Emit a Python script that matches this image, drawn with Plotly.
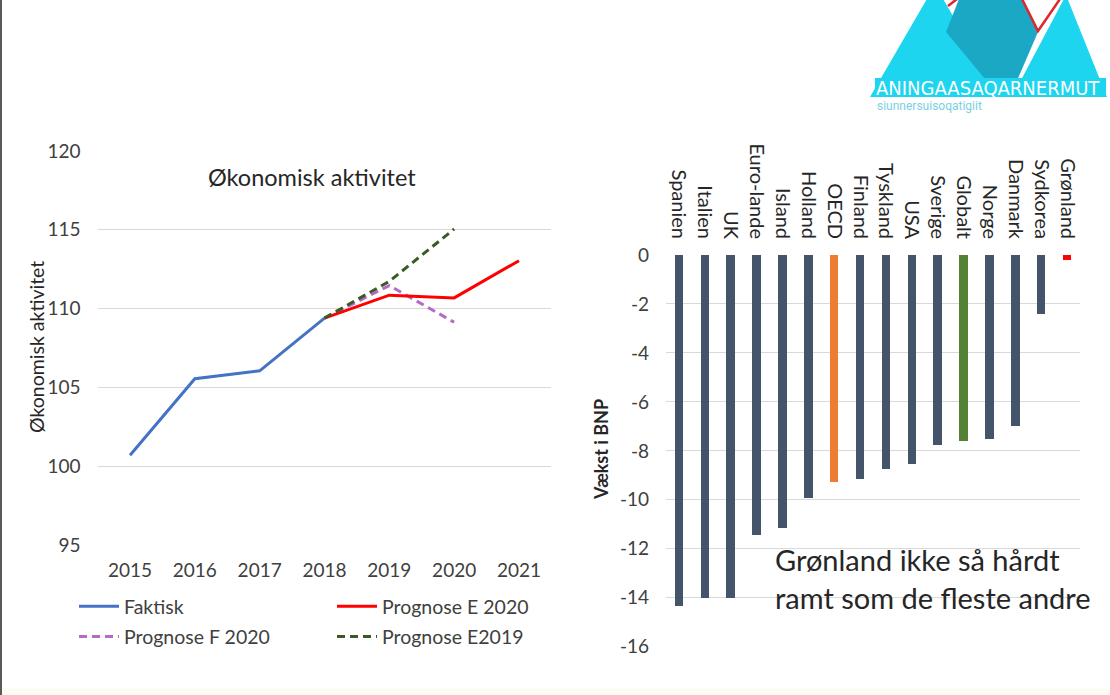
import plotly.graph_objects as go

W, H = 1110, 695

def px(x):
    return x / W

def py(y):
    return 1 - y / H

# ---------------- data ----------------
years = ["2015", "2016", "2017", "2018", "2019", "2020", "2021"]
faktisk_years = ["2015", "2016", "2017", "2018"]
faktisk = [100.7, 105.55, 106.05, 109.4]
progE2020_years = ["2018", "2019", "2020", "2021"]
progE2020 = [109.4, 110.85, 110.68, 113.04]
progF2020_years = ["2018", "2019", "2020"]
progF2020 = [109.4, 111.46, 109.13]
progE2019_years = ["2018", "2019", "2020"]
progE2019 = [109.4, 111.73, 115.05]

countries = ["Spanien", "Italien", "UK", "Euro-lande", "Island", "Holland", "OECD",
             "Finland", "Tyskland", "USA", "Sverige", "Globalt", "Norge", "Danmark",
             "Sydkorea", "Grønland"]
growth = [-14.33, -14.0, -14.0, -11.43, -11.16, -9.93, -9.27, -9.14, -8.73, -8.52,
          -7.76, -7.6, -7.5, -7.0, -2.42, -0.19]
bar_colors = {"OECD": "#ED7D31", "Globalt": "#548235", "Grønland": "#FF0000"}
default_bar = "#44546A"

growth_ticks = [0, -2, -4, -6, -8, -10, -12, -14, -16]
growth_ticktext = ["0", "-2", "-4", "-6", "-8", "-10", "-12", "-14", "-16"]

FONT = "Lato, Calibri, Carlito, sans-serif"
TXT = "#404040"

fig = go.Figure()

# ---------------- left chart ----------------
fig.add_trace(go.Scatter(x=faktisk_years, y=faktisk, mode="lines", name="Faktisk",
                         line=dict(color="#4472C4", width=3), xaxis="x", yaxis="y",
                         legend="legend", legendgroup="a"))
fig.add_trace(go.Scatter(x=progF2020_years, y=progF2020, mode="lines", name="Prognose F 2020",
                         line=dict(color="#B56AC8", width=3, dash="8px,5px"), xaxis="x", yaxis="y",
                         legend="legend", legendgroup="b"))
fig.add_trace(go.Scatter(x=progE2020_years, y=progE2020, mode="lines", name="Prognose E 2020",
                         line=dict(color="#FF0000", width=3), xaxis="x", yaxis="y",
                         legend="legend2", legendgroup="c"))
fig.add_trace(go.Scatter(x=progE2019_years, y=progE2019, mode="lines", name="Prognose E2019",
                         line=dict(color="#3A5A27", width=3, dash="8px,5px"), xaxis="x", yaxis="y",
                         legend="legend2", legendgroup="d"))

# ---------------- right chart ----------------
fig.add_trace(go.Bar(x=countries, y=growth, width=0.33,
                     marker=dict(color=[bar_colors.get(c, default_bar) for c in countries], line=dict(width=0)),
                     xaxis="x2", yaxis="y2", showlegend=False))

axis_common = dict(showline=False, zeroline=False, ticks="", automargin=False,
                   tickfont=dict(family=FONT, size=19, color=TXT))

fig.update_layout(
    template="none",
    width=W, height=H,
    margin=dict(l=0, r=0, t=0, b=0, pad=0, autoexpand=False),
    paper_bgcolor="white", plot_bgcolor="rgba(0,0,0,0)",
    font=dict(family=FONT, color=TXT),
    xaxis=dict(domain=[px(97.6), px(551.4)], anchor="y", type="category",
               categoryorder="array", categoryarray=years,
               range=[-0.5, 6.5], showgrid=False, ticklabelstandoff=12, **axis_common),
    yaxis=dict(domain=[py(545), py(151)], anchor="x", range=[95, 120], dtick=5,
               showgrid=True, gridcolor="#D9D9D9", gridwidth=1, ticklabelstandoff=16,
               **axis_common),
    xaxis2=dict(domain=[px(666), px(1080)], anchor="y2", side="top", type="category",
                categoryorder="array", categoryarray=countries,
                range=[-0.5, 15.5], showgrid=False, tickangle=90, ticklabelstandoff=12,
                showline=False, zeroline=False, ticks="", automargin=False,
                tickfont=dict(family=FONT, size=20, color="#262626")),
    yaxis2=dict(domain=[py(646.7), py(255)], anchor="x2", range=[-16, 0],
                tickmode="array", tickvals=growth_ticks, ticktext=growth_ticktext,
                showgrid=True, gridcolor="#D9D9D9", gridwidth=1, ticklabelstandoff=16,
                **axis_common),
    legend=dict(x=px(74), y=py(587), xanchor="left", yanchor="top", orientation="v",
                bgcolor="rgba(0,0,0,0)", font=dict(family=FONT, size=19.5, color=TXT),
                tracegroupgap=2, itemwidth=40),
    legend2=dict(x=px(332), y=py(587), xanchor="left", yanchor="top", orientation="v",
                 bgcolor="rgba(0,0,0,0)", font=dict(family=FONT, size=19.5, color=TXT),
                 tracegroupgap=2, itemwidth=40),
    bargap=0,
)

annotations = [
    dict(text="Økonomisk aktivitet", x=px(312), y=py(177), xref="paper", yref="paper",
         showarrow=False, xanchor="center", yanchor="middle",
         font=dict(family=FONT, size=23.5, color="#262626")),
    dict(text="Økonomisk aktivitet", x=px(36), y=py(347), xref="paper", yref="paper",
         showarrow=False, xanchor="center", yanchor="middle", textangle=-90,
         font=dict(family=FONT, size=19.5, color="#262626")),
    dict(text="<b>Vækst i BNP</b>", x=px(601), y=py(450), xref="paper", yref="paper",
         showarrow=False, xanchor="center", yanchor="middle", textangle=-90,
         font=dict(family=FONT, size=18, color="#262626")),
    dict(text="Grønland ikke så hårdt<br>ramt som de fleste andre", x=px(773), y=py(578.5),
         xref="paper", yref="paper", showarrow=False, xanchor="left", yanchor="middle",
         align="left", font=dict(family=FONT, size=29, color="#262626")),
    dict(text="ANINGAASAQARNERMUT", x=px(988), y=py(88), xref="paper", yref="paper",
         showarrow=False, xanchor="center", yanchor="middle",
         font=dict(family="DejaVu Sans Condensed, Roboto, sans-serif", size=20, color="white")),
    dict(text="siunnersuisoqatigiit", x=px(875), y=py(106), xref="paper", yref="paper",
         showarrow=False, xanchor="left", yanchor="middle",
         font=dict(family="Roboto, sans-serif", size=12, color="#7CCFE3")),
]

def poly(points):
    return "M " + " L ".join(f"{px(x)},{py(y)}" for x, y in points) + " Z"

LIGHT = "#1DD5EF"
DARK = "#1BA8C5"
shapes = [
    # bottom strip and left border of the slide
    dict(type="rect", xref="paper", yref="paper", x0=0, x1=1, y0=0, y1=py(688),
         fillcolor="#FDFCF2", line=dict(width=0), layer="below"),
    dict(type="line", xref="paper", yref="paper", x0=px(1), x1=px(1), y0=0, y1=1,
         line=dict(color="#5A5A5A", width=2)),
    # logo: left mountain, back mountain, right mountain, red V
    dict(type="path", xref="paper", yref="paper", path=poly([(935, -15), (870, 97), (1000, 97)]),
         fillcolor=LIGHT, line=dict(width=0)),
    dict(type="path", xref="paper", yref="paper",
         path=poly([(959, -1), (1022, -1), (1038, 32), (1010, 97), (1000, 97), (946, 32)]),
         fillcolor=DARK, line=dict(width=0)),
    dict(type="path", xref="paper", yref="paper", path=poly([(1066, -5), (1012, 97), (1107, 97)]),
         fillcolor=LIGHT, line=dict(width=0)),
    dict(type="rect", xref="paper", yref="paper", x0=px(875), x1=px(1106), y0=py(97), y1=py(78),
         fillcolor=LIGHT, line=dict(width=0)),
    dict(type="path", xref="paper", yref="paper", path=poly([(1022, -1), (1038, 31), (1060, -1)]),
         fillcolor="white", line=dict(width=0)),
    dict(type="path", xref="paper", yref="paper",
         path=f"M {px(1022)},{py(-1)} L {px(1038)},{py(31)} L {px(1060)},{py(-1)}",
         line=dict(color="#E0262B", width=2.5)),
    dict(type="line", xref="paper", yref="paper", x0=px(948), y0=py(6), x1=px(957), y1=py(-1),
         line=dict(color="#E0262B", width=2.5)),
]

fig.update_layout(annotations=annotations, shapes=shapes)

fig.write_html("out.html", post_script="document.body.style.margin='0';",
               config={"displayModeBar": False})
